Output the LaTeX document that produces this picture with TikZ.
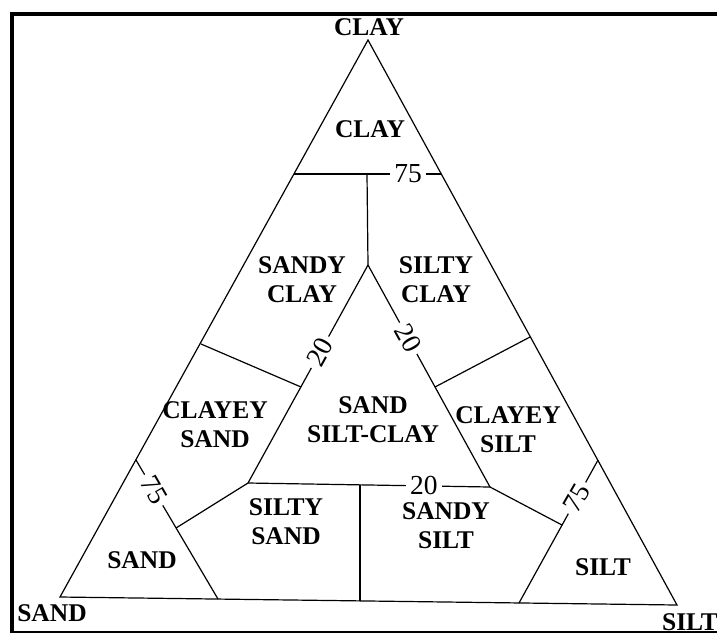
\documentclass[tikz,border=0pt]{standalone}
\usepackage{fontspec}
\setmainfont{Liberation Serif}
\begin{document}
\begin{tikzpicture}[x=1pt,y=-1pt,
  edge/.style={line width=1.2pt, black},
  lab/.style={font=\bfseries\fontsize{25.5}{29}\selectfont, align=center, inner sep=0pt},
  num/.style={font=\fontsize{27.5}{27}\selectfont, fill=white, inner sep=4pt}]
\useasboundingbox (0,0) rectangle (717,633);
% frame
\coordinate (f1) at (12,14);
\coordinate (f2) at (717,14);
\coordinate (f3) at (12,633);
\coordinate (f4) at (12,632);
\coordinate (f5) at (717,632);
\draw[line width=3.5pt] (f2) -- (f1) -- (f3);
\draw[line width=1.2pt] (f4) -- (f5);
% outer triangle
\coordinate (A) at (368,40);
\coordinate (L) at (60,597);
\coordinate (R) at (677,605);
\draw[edge] (A) -- (L) -- (R) -- cycle;
% clay 75 line
\coordinate (c1) at (294,174);
\coordinate (c2) at (441,174);
\coordinate (c3) at (367,174);
\draw[edge] (c1) -- node[num, pos=0.776] (n75t) {75} (c2);
% inner triangle
\coordinate (I) at (368,265);
\coordinate (IL) at (248,483);
\coordinate (IR) at (490,487);
\draw[edge] (c3) -- (I);
\draw[edge] (I) -- node[num, pos=0.4, rotate=61] (n20l) {20} (IL);
\draw[edge] (I) -- node[num, pos=0.33, rotate=-61] (n20r) {20} (IR);
\draw[edge] (IL) -- node[num, pos=0.727] (n20b) {20} (IR);
% dividers
\coordinate (d1) at (201,344);
\coordinate (d2) at (301,387);
\coordinate (d3) at (435,387);
\coordinate (d4) at (530,337);
\draw[edge] (d1) -- (d2);
\draw[edge] (d3) -- (d4);
\coordinate (v1) at (360,485);
\coordinate (v2) at (360,601);
\draw[edge] (v1) -- (v2);
% sand 75 line
\coordinate (s1) at (136,460);
\coordinate (s2) at (218,599);
\coordinate (sj) at (176,528);
\draw[edge] (s1) -- node[num, pos=0.216, rotate=-60] (n75l) {75} (s2);
\draw[edge] (IL) -- (sj);
% silt 75 line
\coordinate (t1) at (598,460);
\coordinate (t2) at (519,603);
\coordinate (tj) at (562,525);
\draw[edge] (t1) -- node[num, pos=0.266, rotate=60] (n75r) {75} (t2);
\draw[edge] (IR) -- (tj);
% vertex labels
\node[lab] (vclay) at (369,27) {CLAY};
\node[lab] (vsand) at (52,613) {SAND};
\node[lab] (vsilt) at (690,622) {SILT};
% region labels
\node[lab] (rclay) at (370,129) {CLAY};
\node[lab] (rsandyclay) at (302,280) {SANDY\\CLAY};
\node[lab] (rsiltyclay) at (436,280) {SILTY\\CLAY};
\node[lab] (rclayeysand) at (215,425) {CLAYEY\\SAND};
\node[lab] (rssc) at (373,420) {SAND\\SILT-CLAY};
\node[lab] (rclayeysilt) at (508,430) {CLAYEY\\SILT};
\node[lab] (rsiltysand) at (286,522) {SILTY\\SAND};
\node[lab] (rsandysilt) at (446,526) {SANDY\\SILT};
\node[lab] (rsand) at (142,560) {SAND};
\node[lab] (rsilt) at (603,567) {SILT};
\end{tikzpicture}
\end{document}
